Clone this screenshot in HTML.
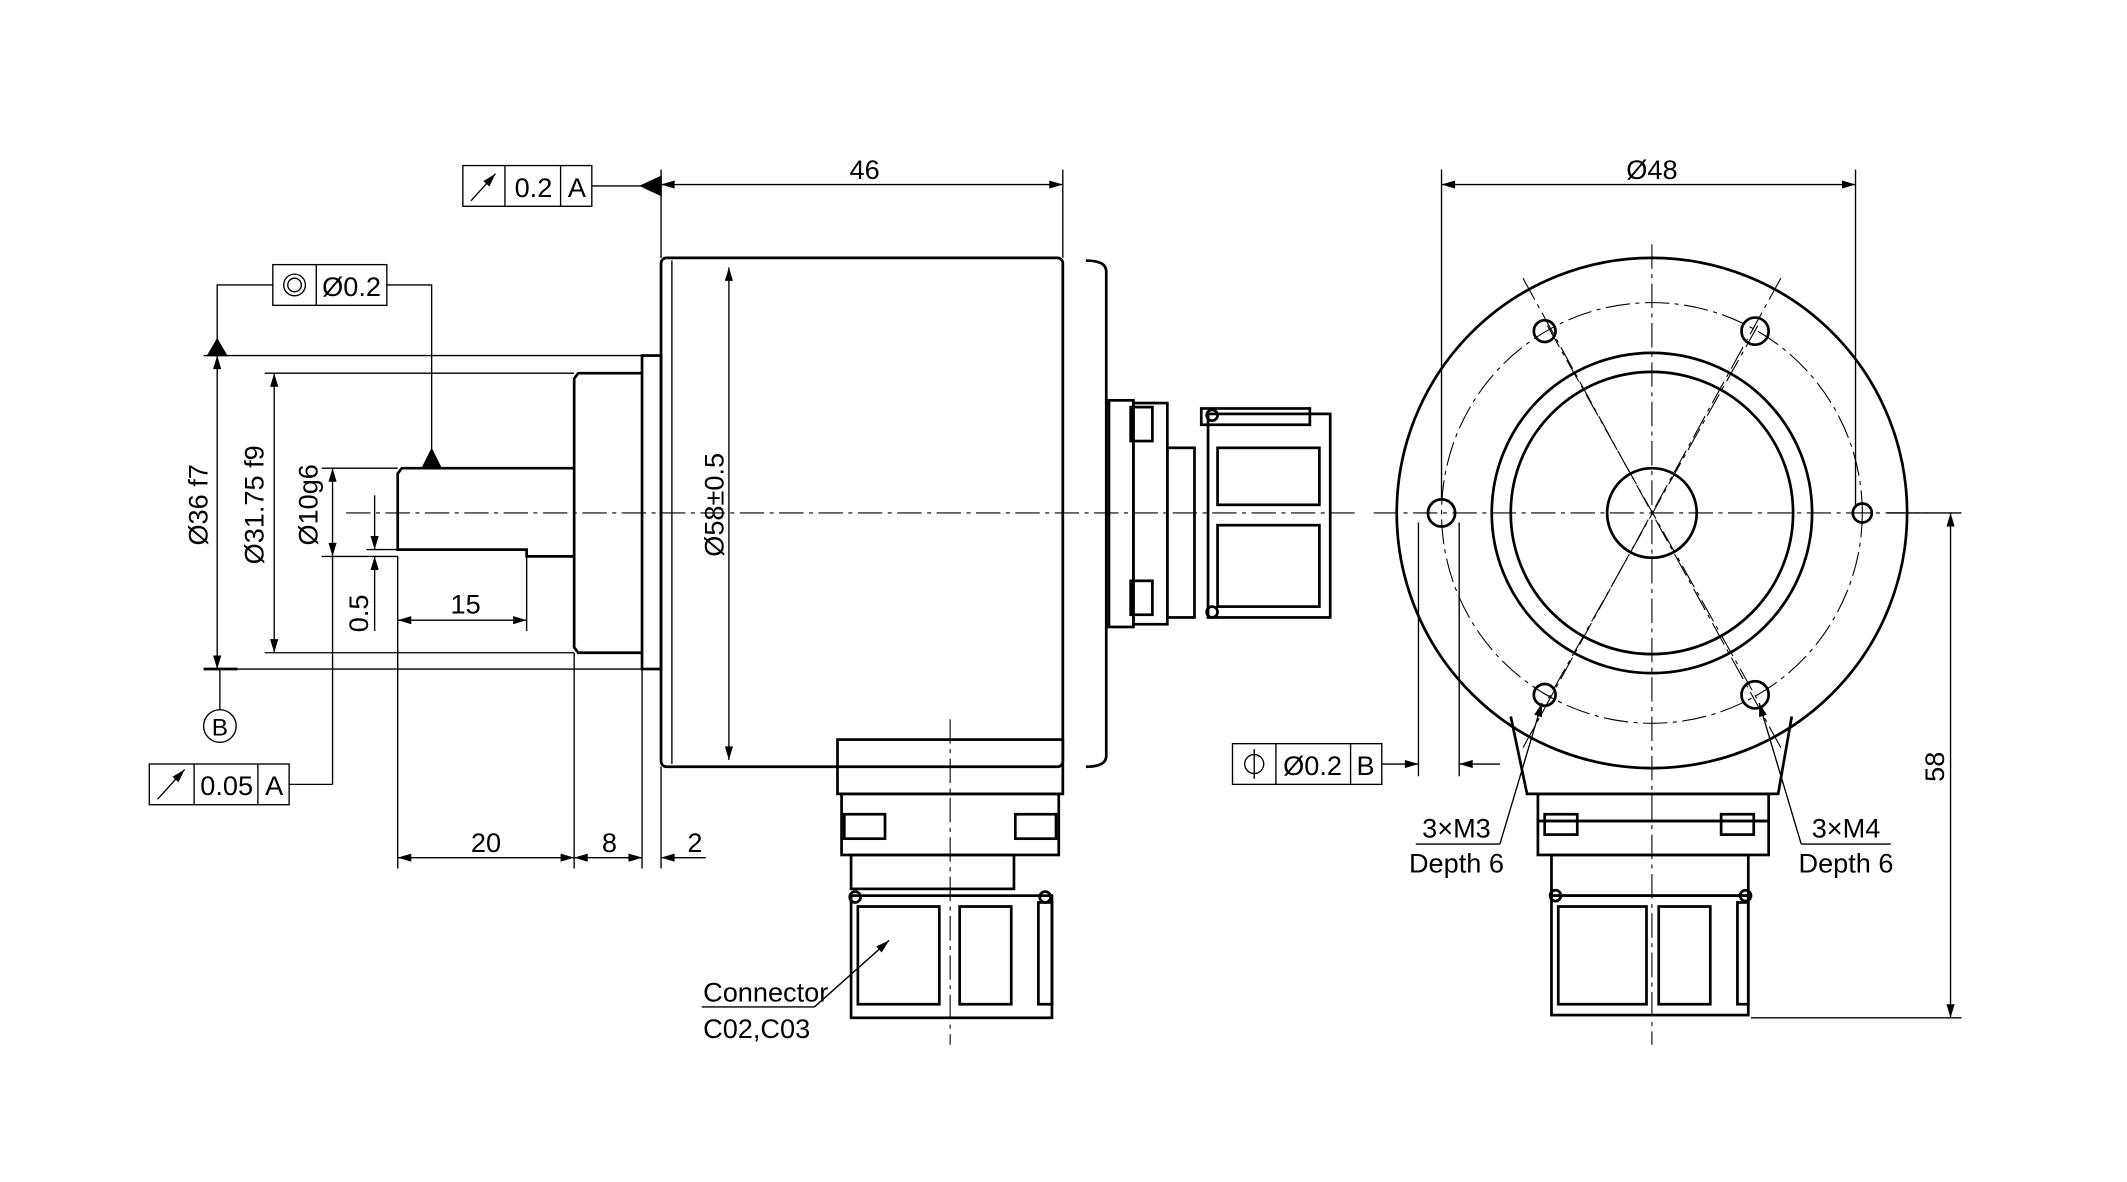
<!DOCTYPE html>
<html><head><meta charset="utf-8"><style>
html,body{margin:0;padding:0;background:#fff;}
svg{display:block;}
text{font-family:"Liberation Sans",sans-serif;fill:#000;}
</style></head><body>
<svg width="2127" height="1182" viewBox="0 0 1567 871" preserveAspectRatio="none" xmlns="http://www.w3.org/2000/svg">
<defs>
<marker id="a" viewBox="0 0 10 6" refX="10" refY="3" markerWidth="14" markerHeight="6" orient="auto-start-reverse" markerUnits="userSpaceOnUse"><path d="M0,0L10,3L0,6z" fill="#000"/></marker>
</defs>
<g fill="none" stroke="#000" stroke-width="1">
<g stroke-dasharray="18,4,3,4" stroke-width="0.8">
<line x1="255" y1="378" x2="1000" y2="378"/>
<line x1="700" y1="530" x2="700" y2="770"/>
<line x1="1012" y1="378" x2="1420" y2="378"/>
<line x1="1217" y1="180" x2="1217" y2="770"/>
<line x1="1140" y1="240" x2="1295" y2="516"/>
<line x1="1295" y1="240" x2="1140" y2="516"/>
<line x1="1122" y1="205" x2="1312" y2="551"/>
<line x1="1312" y1="205" x2="1122" y2="551"/>
<circle cx="1217" cy="378" r="155"/>
</g>
<g stroke-width="2">
<rect x="487" y="190" width="296" height="375" rx="4"/>
<path d="M800,192 Q815,192 815,200 L815,557 Q815,565 800,565"/>
<rect x="473" y="262" width="14" height="231"/>
<path d="M473,275 L426,275 L423,279 L423,477 L426,481 L473,481"/>
<path d="M423,345 L296,345 L293,349 L293,405 L388,405 L388,410 L423,410"/>
</g>
<line x1="495" y1="192" x2="495" y2="563"/>
<g stroke-width="2">
<rect x="617" y="545" width="166" height="40"/>
<rect x="620" y="585" width="160" height="45"/>
<rect x="627" y="630" width="120" height="25"/>
<rect x="627" y="660" width="148" height="90"/>
<rect x="632" y="668" width="60" height="72"/>
<rect x="707" y="668" width="38" height="72"/>
<rect x="765" y="665" width="10" height="75"/>
<circle cx="630" cy="661" r="4"/><circle cx="770" cy="661" r="4"/>
<rect x="622" y="600" width="30" height="18"/><rect x="748" y="600" width="30" height="18"/>
</g>
<g stroke-width="2">
<rect x="817" y="295" width="18" height="167"/>
<rect x="835" y="297" width="25" height="163"/>
<rect x="860" y="330" width="20" height="125"/>
<rect x="890" y="305" width="90" height="150"/>
<rect x="897" y="330" width="75" height="42"/>
<rect x="897" y="387" width="75" height="60"/>
<rect x="885" y="301" width="80" height="12"/>
<circle cx="893" cy="306" r="4"/><circle cx="893" cy="451" r="4"/>
<rect x="833" y="300" width="16" height="25"/><rect x="833" y="428" width="16" height="25"/>
</g>
<g stroke-width="2">
<circle cx="1217" cy="378" r="188"/>
<circle cx="1217" cy="378" r="118"/>
<circle cx="1217" cy="378" r="104"/>
<circle cx="1217" cy="378" r="33"/>
<circle cx="1062" cy="378" r="10"/>
<circle cx="1372" cy="378" r="7"/>
<circle cx="1138" cy="244" r="8"/>
<circle cx="1293" cy="244" r="10"/>
<circle cx="1138" cy="512" r="8"/>
<circle cx="1293" cy="512" r="10"/>
<path d="M1113,528 L1125,585 L1310,585 L1320,528"/>
<rect x="1133" y="585" width="170" height="20"/>
<rect x="1133" y="605" width="170" height="25"/>
<rect x="1143" y="630" width="145" height="30"/>
<rect x="1143" y="660" width="145" height="88"/>
<rect x="1148" y="668" width="65" height="72"/>
<rect x="1222" y="668" width="38" height="72"/>
<rect x="1280" y="665" width="8" height="75"/>
<circle cx="1146" cy="660" r="4"/><circle cx="1286" cy="660" r="4"/>
<rect x="1138" y="600" width="24" height="15"/><rect x="1268" y="600" width="24" height="15"/>
</g>
<line x1="487" y1="125" x2="487" y2="190"/><line x1="783" y1="125" x2="783" y2="190"/>
<line x1="487" y1="136" x2="783" y2="136" marker-start="url(#a)" marker-end="url(#a)"/>
<line x1="436" y1="137" x2="472" y2="137"/>
<path d="M472,130 L487,137 L472,144z" fill="#000" transform="rotate(180 479.5 137)"/>
<line x1="537" y1="197" x2="537" y2="560" marker-start="url(#a)" marker-end="url(#a)"/>
<line x1="150" y1="262" x2="473" y2="262"/><line x1="150" y1="493" x2="473" y2="493"/>
<line x1="160" y1="262" x2="160" y2="493" marker-start="url(#a)" marker-end="url(#a)"/>
<line x1="195" y1="275" x2="423" y2="275"/><line x1="195" y1="481" x2="423" y2="481"/>
<line x1="202" y1="275" x2="202" y2="481" marker-start="url(#a)" marker-end="url(#a)"/>
<line x1="237" y1="345" x2="293" y2="345"/><line x1="237" y1="410" x2="293" y2="410"/>
<line x1="245" y1="345" x2="245" y2="410" marker-start="url(#a)" marker-end="url(#a)"/>
<line x1="245" y1="410" x2="245" y2="578"/><line x1="213" y1="578" x2="245" y2="578"/>
<line x1="276" y1="365" x2="276" y2="405" marker-end="url(#a)"/>
<line x1="276" y1="465" x2="276" y2="410" marker-end="url(#a)"/>
<line x1="270" y1="405" x2="293" y2="405"/>
<line x1="293" y1="457" x2="388" y2="457" marker-start="url(#a)" marker-end="url(#a)"/>
<line x1="388" y1="410" x2="388" y2="465"/>
<line x1="293" y1="410" x2="293" y2="640"/><line x1="423" y1="481" x2="423" y2="640"/>
<line x1="473" y1="493" x2="473" y2="640"/><line x1="487" y1="565" x2="487" y2="640"/>
<line x1="293" y1="632" x2="423" y2="632" marker-start="url(#a)" marker-end="url(#a)"/>
<line x1="423" y1="632" x2="473" y2="632" marker-start="url(#a)" marker-end="url(#a)"/>
<line x1="460" y1="632" x2="473" y2="632" marker-end="url(#a)"/>
<line x1="520" y1="632" x2="487" y2="632" marker-end="url(#a)"/>
<path d="M201,210 L160,210 L160,250"/><path d="M285,210 L318,210 L318,333"/>
<path d="M153,262 L160,250 L167,262z" fill="#000"/>
<path d="M311,345 L318,331 L325,345z" fill="#000"/>
<line x1="150" y1="493" x2="175" y2="493" stroke-width="2"/>
<line x1="162" y1="493" x2="162" y2="523"/>
<circle cx="162" cy="535" r="12"/>
<rect x="341" y="122" width="95" height="30"/><line x1="372" y1="122" x2="372" y2="152"/><line x1="413" y1="122" x2="413" y2="152"/>
<line x1="347" y1="148" x2="365" y2="128" marker-end="url(#a)"/>
<rect x="201" y="195" width="84" height="30"/><line x1="233" y1="195" x2="233" y2="225"/>
<circle cx="217" cy="210" r="8"/><circle cx="217" cy="210" r="5"/>
<rect x="110" y="563" width="103" height="30"/><line x1="143" y1="563" x2="143" y2="593"/><line x1="190" y1="563" x2="190" y2="593"/>
<line x1="116" y1="589" x2="136" y2="567" marker-end="url(#a)"/>
<rect x="908" y="548" width="110" height="30"/><line x1="940" y1="548" x2="940" y2="578"/><line x1="995" y1="548" x2="995" y2="578"/>
<circle cx="924" cy="563" r="7"/><line x1="924" y1="552" x2="924" y2="574"/>
<line x1="517" y1="742" x2="600" y2="742"/>
<line x1="600" y1="742" x2="655" y2="693" marker-end="url(#a)"/>
<line x1="1062" y1="125" x2="1062" y2="368"/><line x1="1367" y1="125" x2="1367" y2="372"/>
<line x1="1062" y1="136" x2="1367" y2="136" marker-start="url(#a)" marker-end="url(#a)"/>
<line x1="1045" y1="385" x2="1045" y2="572"/><line x1="1075" y1="385" x2="1075" y2="572"/>
<line x1="1018" y1="563" x2="1045" y2="563" marker-end="url(#a)"/>
<line x1="1105" y1="563" x2="1075" y2="563" marker-end="url(#a)"/>
<line x1="1390" y1="378" x2="1445" y2="378"/><line x1="1290" y1="750" x2="1445" y2="750"/>
<line x1="1437" y1="378" x2="1437" y2="750" marker-start="url(#a)" marker-end="url(#a)"/>
<line x1="1043" y1="622" x2="1105" y2="622"/><line x1="1105" y1="622" x2="1136" y2="518" marker-end="url(#a)"/>
<line x1="1327" y1="622" x2="1393" y2="622"/><line x1="1327" y1="622" x2="1296" y2="518" marker-end="url(#a)"/>
</g>
<g font-size="20">
<text x="637" y="132" text-anchor="middle">46</text>
<text x="1217" y="132" text-anchor="middle">Ø48</text>
<text x="393" y="145" text-anchor="middle">0.2</text>
<text x="425" y="145" text-anchor="middle">A</text>
<text x="259" y="218" text-anchor="middle">Ø0.2</text>
<text x="167" y="586" text-anchor="middle">0.05</text>
<text x="202" y="586" text-anchor="middle">A</text>
<text x="967" y="571" text-anchor="middle">Ø0.2</text>
<text x="1006" y="571" text-anchor="middle">B</text>
<text x="162" y="542" text-anchor="middle" font-size="18">B</text>
<text x="343" y="452" text-anchor="middle">15</text>
<text x="358" y="628" text-anchor="middle">20</text>
<text x="449" y="628" text-anchor="middle">8</text>
<text x="512" y="628" text-anchor="middle">2</text>
<text transform="translate(153,372) rotate(-90)" text-anchor="middle">Ø36 f7</text>
<text transform="translate(194,372) rotate(-90)" text-anchor="middle">Ø31.75 f9</text>
<text transform="translate(234,372) rotate(-90)" text-anchor="middle">Ø10g6</text>
<text transform="translate(271,452) rotate(-90)" text-anchor="middle">0.5</text>
<text transform="translate(533,372) rotate(-90)" text-anchor="middle">Ø58±0.5</text>
<text transform="translate(1432,565) rotate(-90)" text-anchor="middle">58</text>
<text x="518" y="738">Connector</text>
<text x="518" y="765">C02,C03</text>
<text x="1073" y="617" text-anchor="middle">3×M3</text>
<text x="1073" y="643" text-anchor="middle">Depth 6</text>
<text x="1360" y="617" text-anchor="middle">3×M4</text>
<text x="1360" y="643" text-anchor="middle">Depth 6</text>
</g>
</svg>
</body></html>
